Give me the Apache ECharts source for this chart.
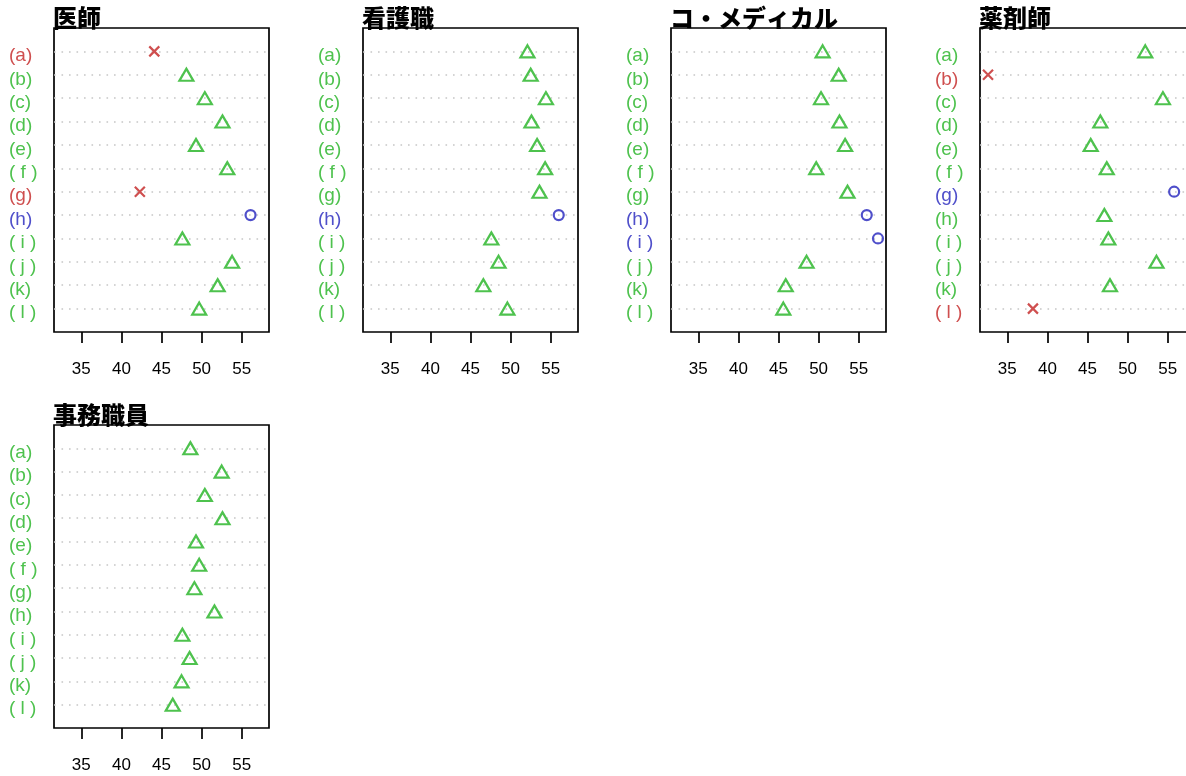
<!DOCTYPE html>
<html>
<head>
<meta charset="utf-8">
<script src="https://cdn.jsdelivr.net/npm/echarts@6/dist/echarts.min.js"></script>
<style>
html,body{margin:0;padding:0;background:#fff;}
#chart{width:1186px;height:776px;}
</style>
</head>
<body>
<div id="chart"></div>
<script>
// ---- data ----
const categoryLabels = ['(a)', '(b)', '(c)', '(d)', '(e)', '( f )', '(g)', '(h)', '( i )', '( j )', '(k)', '( l )'];
const panelTitles = ['医師', '看護職', 'コ・メディカル', '薬剤師', '事務職員'];
const doctorValues     = [44.1, 48.1, 50.4, 52.6, 49.3, 53.2, 42.3, 56.1, 47.6, 53.8, 52.0, 49.7];
const nurseValues      = [52.1, 52.5, 54.4, 52.6, 53.3, 54.3, 53.6, 56.0, 47.6, 48.5, 46.6, 49.6];
const comedicalValues  = [50.5, 52.5, 50.3, 52.6, 53.3, 49.7, 53.6, 56.0, 57.4, 48.5, 45.9, 45.6];
const pharmacistValues = [52.2, 32.6, 54.4, 46.6, 45.4, 47.4, 55.8, 47.1, 47.6, 53.6, 47.8, 38.2];
const clerkValues      = [48.6, 52.5, 50.4, 52.6, 49.3, 49.7, 49.1, 51.6, 47.6, 48.5, 47.5, 46.4];
const xTickValues = [35, 40, 45, 50, 55];
const lowThreshold = 45;
const highThreshold = 55;

// ---- styling ----
const RED = '#cf4f4f', GREEN = '#4ec24e', BLUE = '#4f4fca';
const LATIN = "'Liberation Sans', Arial, Helvetica, sans-serif";
const CJK = "'Noto Sans CJK JP', sans-serif";
const panelValues = [doctorValues, nurseValues, comedicalValues, pharmacistValues, clerkValues];
const grids = [
  {left: 54, top: 28, width: 215, height: 304},
  {left: 363, top: 28, width: 215, height: 304},
  {left: 671, top: 28, width: 215, height: 304},
  {left: 980, top: 28, width: 215, height: 304},
  {left: 54, top: 425, width: 215, height: 303}
];

function cls(v) { return v < lowThreshold ? 'r' : (v > highThreshold ? 'b' : 'g'); }
const colorOf = {r: RED, g: GREEN, b: BLUE};
const symbolOf = {r: 'path://M0,0L10,10M10,0L0,10', g: 'triangle', b: 'circle'};
const sizeOf = {r: 10, g: [14, 12], b: 10};

const option = {
  animation: false,
  backgroundColor: '#fff',
  title: [], grid: [], xAxis: [], yAxis: [], series: []
};
const n = categoryLabels.length;
const yCustom = categoryLabels.map((_, i) => i + 1);
const labelRich = (c) => ({color: c, fontFamily: LATIN, fontSize: 19, padding: [9, 0, 0, 0]});

panelValues.forEach((vals, p) => {
  const g = grids[p];
  option.title.push({
    text: panelTitles[p], left: g.left - 1, top: g.top - 22,
    textStyle: {fontFamily: CJK, fontSize: 24, fontWeight: 900, color: '#000'},
    padding: 0, z: 10
  });
  option.grid.push({
    left: g.left, top: g.top, width: g.width, height: g.height,
    outerBoundsMode: 'none', containLabel: false,
    show: true, borderColor: '#000', borderWidth: 1.7, backgroundColor: 'transparent'
  });
  option.xAxis.push({
    type: 'value', gridIndex: p, min: 31.6, max: 58.4,
    axisLine: {show: false},
    splitLine: {show: false},
    axisTick: {show: true, customValues: xTickValues, length: 11, inside: false,
               lineStyle: {color: '#000', width: 1.7}},
    axisLabel: {show: true, customValues: xTickValues, margin: 29,
                fontFamily: LATIN, fontSize: 17, color: '#000'}
  });
  option.yAxis.push({
    type: 'value', gridIndex: p, min: 0, max: n + 1,
    axisLine: {show: false}, axisTick: {show: false}, splitLine: {show: false},
    axisLabel: {
      show: true, customValues: yCustom, align: 'left', margin: 45,
      fontFamily: LATIN, fontSize: 19,
      formatter: function (val) {
        const i = n - val;
        if (i < 0 || i >= n) return '';
        return '{' + cls(vals[i]) + '|' + categoryLabels[i] + '}';
      },
      rich: {r: labelRich(RED), g: labelRich(GREEN), b: labelRich(BLUE)}
    }
  });
  option.series.push({
    type: 'scatter', xAxisIndex: p, yAxisIndex: p, silent: true, z: 5,
    data: vals.map((v, i) => {
      const c = cls(v);
      return {
        value: [v, n - i], symbol: symbolOf[c], symbolSize: sizeOf[c],
        itemStyle: {color: 'none', borderColor: colorOf[c], borderWidth: 2.2, opacity: 1}
      };
    }),
    markLine: {
      silent: true, symbol: ['none', 'none'], label: {show: false}, z: 1,
      lineStyle: {color: '#c6c6c6', type: [1.6, 5.9], width: 1.6},
      data: vals.map((v, i) => ({yAxis: n - i}))
    }
  });
});

const chart = echarts.init(document.getElementById('chart'), null, {renderer: 'canvas'});
chart.setOption(option);
</script>
</body>
</html>
